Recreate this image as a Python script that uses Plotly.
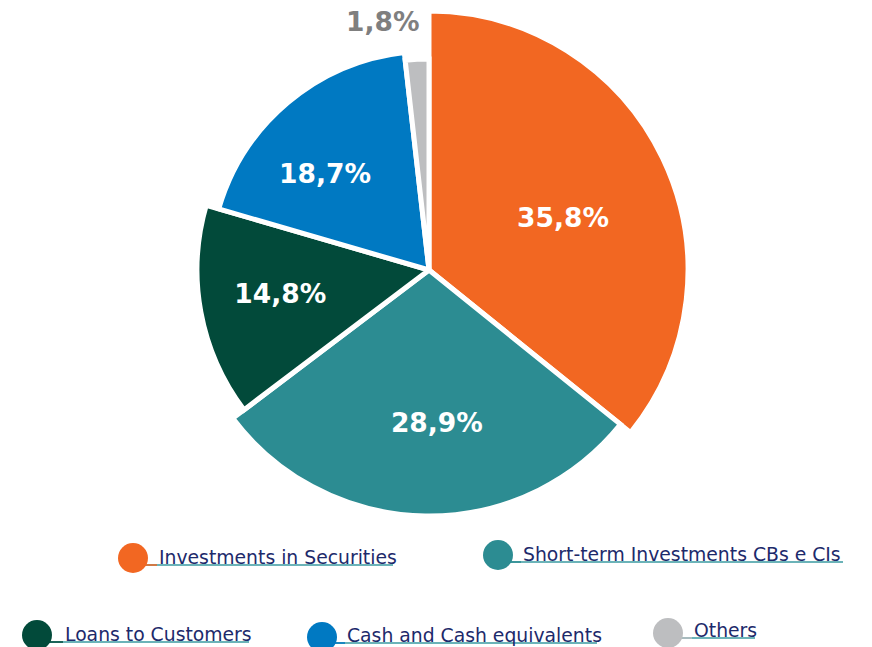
import plotly.graph_objects as go

# Asset composition (%)
categories = [
    "Investments in Securities",
    "Short-term Investments CBs e CIs",
    "Loans to Customers",
    "Cash and Cash equivalents",
    "Others",
]
shares = [35.8, 28.9, 14.8, 18.7, 1.8]

# Styling
colors = ["#F26722", "#2C8C92", "#024A3A", "#0079C2", "#BDBEC0"]
slice_radius = [259, 246, 232, 219, 211]          # stepped radii (px units on radial axis)
label_radius = [143, 156, 151, 140, 250]
label_theta_shift = [5.1, -3.8, 0.5, -7.8, -7.4]
label_colors = ["white", "white", "white", "white", "#7F7F7F"]

W, H = 872, 647
CX, CY, RMAX = 429, 270, 262

# Angular layout of the slices (clockwise from 12 o'clock)
widths = [s * 3.6 for s in shares]
mids = []
acc = 0.0
for w in widths:
    mids.append(acc + w / 2)
    acc += w

label_text = [f"{s:.1f}%".replace(".", ",") for s in shares]

fig = go.Figure()
fig.add_trace(go.Barpolar(
    r=slice_radius,
    theta=mids,
    width=widths,
    marker=dict(color=colors, line=dict(color="white", width=5)),
    hoverinfo="skip",
    showlegend=False,
))
fig.add_trace(go.Scatterpolar(
    r=label_radius,
    theta=[m + d for m, d in zip(mids, label_theta_shift)],
    mode="text",
    text=[f"<b>{t}</b>" for t in label_text],
    textfont=dict(family="DejaVu Sans", size=26.5, color=label_colors),
    textposition="middle center",
    hoverinfo="skip",
    showlegend=False,
))

fig.update_layout(
    width=W, height=H,
    margin=dict(l=0, r=0, t=0, b=0),
    paper_bgcolor="white",
    plot_bgcolor="white",
    polar=dict(
        domain=dict(x=[(CX - RMAX) / W, (CX + RMAX) / W],
                    y=[1 - (CY + RMAX) / H, 1 - (CY - RMAX) / H]),
        bgcolor="white",
        bargap=0,
        radialaxis=dict(visible=False, range=[0, RMAX]),
        angularaxis=dict(visible=False, rotation=90, direction="clockwise"),
    ),
)

# Custom legend: dot + underlined link-style label
legend_pos = [  # (dot centre x, dot centre y, text left x, text right x, underline y)
    (133, 558, 157, 393, 565),
    (498, 555, 521, 843, 562),
    (37, 635, 63, 249, 642),
    (322, 637, 345, 597, 643),
    (668, 633, 692, 755, 638),
]
underline_color = "#3A9AA0"
shapes = []
annotations = []
for name, col, (dx, dy, tx, tr, uy) in zip(categories, colors, legend_pos):
    shapes.append(dict(type="line", xref="paper", yref="paper",
                       x0=dx / W, x1=tr / W, y0=1 - uy / H, y1=1 - uy / H,
                       line=dict(color=underline_color, width=1.5)))
    shapes.append(dict(type="line", xref="paper", yref="paper",
                       x0=dx / W, x1=tx / W, y0=1 - uy / H, y1=1 - uy / H,
                       line=dict(color=col, width=1.5)))
    shapes.append(dict(type="circle", xref="paper", yref="paper",
                       x0=(dx - 15) / W, x1=(dx + 15) / W,
                       y0=1 - (dy + 15) / H, y1=1 - (dy - 15) / H,
                       fillcolor=col, line=dict(width=0)))
    annotations.append(dict(text=name, xref="paper", yref="paper",
                            x=tx / W, y=1 - (uy - 8) / H,
                            xanchor="left", yanchor="middle", showarrow=False,
                            font=dict(family="DejaVu Sans", size=18.8, color="#1D2A6B")))

fig.update_layout(shapes=shapes, annotations=annotations)

fig.write_html("out.html")
